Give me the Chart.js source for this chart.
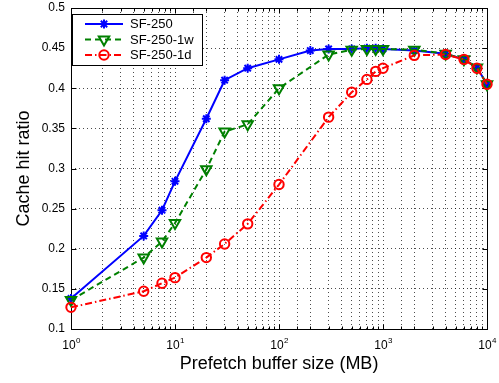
<!DOCTYPE html>
<html>
<head>
<meta charset="utf-8">
<script src="https://cdn.jsdelivr.net/npm/chart.js@4"></script>
<style>
html, body { margin: 0; padding: 0; background: #fff; }
</style>
</head>
<body>
<canvas id="myChart" width="499" height="383"></canvas>
<script>
// buffer sizes (MB) for each series
const sizes_sf250 = [1, 5, 7.5, 10, 20, 30, 50, 100, 200, 300, 500, 700, 850, 1000, 2000, 4000, 6000, 8000, 10000];
const sizes_sf250_1w = [1, 5, 7.5, 10, 20, 30, 50, 100, 300, 500, 700, 850, 1000, 2000, 4000, 6000, 8000, 10000];
const sizes_sf250_1d = [1, 5, 7.5, 10, 20, 30, 50, 100, 300, 500, 700, 850, 1000, 2000, 4000, 6000, 8000, 10000];

// cache hit ratio
const hit_sf250 = [0.138, 0.216, 0.248, 0.284, 0.362, 0.410, 0.425, 0.436, 0.447, 0.449, 0.449, 0.450, 0.450, 0.449, 0.447, 0.443, 0.436, 0.426, 0.405];
const hit_sf250_1w = [0.136, 0.189, 0.209, 0.232, 0.299, 0.346, 0.355, 0.400, 0.442, 0.448, 0.449, 0.449, 0.449, 0.448, 0.443, 0.436, 0.426, 0.405];
const hit_sf250_1d = [0.127, 0.147, 0.157, 0.164, 0.189, 0.206, 0.231, 0.280, 0.364, 0.395, 0.411, 0.421, 0.425, 0.441, 0.442, 0.436, 0.425, 0.405];

const series_names = ["SF-250", "SF-250-1w", "SF-250-1d"];
const x_tick_powers = [0, 1, 2, 3, 4];

Chart.defaults.font.family = "'Liberation Sans', Arial, sans-serif";
Chart.defaults.color = "#000";

function to_points(xs, ys) {
    return xs.map((x, i) => ({ x: x, y: ys[i] }));
}

// 枠線と内向きの目盛り
const frame_plugin = {
    id: "frame",
    beforeDatasetsDraw(chart) {
        const ctx = chart.ctx;
        const a = chart.chartArea;
        const xs = chart.scales.x;
        const ys = chart.scales.y;
        const l = Math.round(a.left) + 0.5, r = Math.round(a.right) + 0.5;
        const t = Math.round(a.top) + 0.5, b = Math.round(a.bottom) + 0.5;
        ctx.save();
        ctx.strokeStyle = "#000";
        ctx.lineWidth = 1;
        ctx.beginPath();
        xs.ticks.forEach(tk => {
            const lg = Math.log10(tk.value);
            const len = Math.abs(lg - Math.round(lg)) < 1e-9 ? 5 : 3;
            const px = Math.round(xs.getPixelForValue(tk.value)) + 0.5;
            ctx.moveTo(px, b); ctx.lineTo(px, b - len);
            ctx.moveTo(px, t); ctx.lineTo(px, t + len);
        });
        ys.ticks.forEach(tk => {
            const py = Math.round(ys.getPixelForValue(tk.value)) + 0.5;
            ctx.moveTo(l, py); ctx.lineTo(l + 5, py);
            ctx.moveTo(r, py); ctx.lineTo(r - 5, py);
        });
        ctx.stroke();
        ctx.strokeRect(l, t, r - l, b - t);

        // x軸ラベル 10^n
        ctx.fillStyle = "#000";
        x_tick_powers.forEach(p => {
            const px = xs.getPixelForValue(Math.pow(10, p));
            ctx.font = "12px 'Liberation Sans', Arial, sans-serif";
            ctx.textAlign = "center";
            ctx.textBaseline = "alphabetic";
            ctx.fillText("10", px - 2, b + 19);
            ctx.font = "8px 'Liberation Sans', Arial, sans-serif";
            ctx.textAlign = "left";
            ctx.fillText(String(p), px + 5, b + 13);
        });
        ctx.restore();
    }
};

// 凡例 (グラフ内左上)
const legend_plugin = {
    id: "boxLegend",
    afterDatasetsDraw(chart) {
        const ctx = chart.ctx;
        const a = chart.chartArea;
        const x0 = a.left + 1, y0 = a.top + 6;
        const w = 130, h = 51;
        ctx.save();
        ctx.fillStyle = "#fff";
        ctx.fillRect(x0, y0, w, h);
        ctx.strokeStyle = "#000";
        ctx.lineWidth = 1;
        ctx.strokeRect(Math.round(x0) + 0.5, Math.round(y0) + 0.5, w, h);
        chart.data.datasets.forEach((ds, i) => {
            const cy = y0 + 10 + i * 15.5;
            ctx.save();
            ctx.strokeStyle = ds.borderColor;
            ctx.fillStyle = "rgba(0,0,0,0)";
            ctx.lineWidth = 2;
            ctx.setLineDash(ds.borderDash || []);
            ctx.beginPath();
            ctx.moveTo(x0 + 13, cy);
            ctx.lineTo(x0 + 51, cy);
            ctx.stroke();
            ctx.setLineDash([]);
            Chart.helpers.drawPoint(ctx, {
                pointStyle: ds.pointStyle,
                rotation: ds.pointRotation || 0,
                radius: ds.pointRadius,
                borderWidth: 2
            }, x0 + 32, cy);
            ctx.restore();
            ctx.fillStyle = "#000";
            ctx.font = "13px 'Liberation Sans', Arial, sans-serif";
            ctx.textAlign = "left";
            ctx.textBaseline = "middle";
            ctx.fillText(ds.label, x0 + 58, cy + 0.5);
        });
        ctx.restore();
    }
};

const ctx = document.getElementById("myChart").getContext("2d");

const chart = new Chart(ctx, {
    type: "line",
    data: {
        datasets: [
            {
                label: series_names[0],
                data: to_points(sizes_sf250, hit_sf250),
                borderColor: "#0000ff",
                backgroundColor: "#0000ff",
                borderWidth: 2,
                pointStyle: "star",
                pointRadius: 4.5,
                pointBorderWidth: 2,
                pointBorderColor: "#0000ff",
                pointBackgroundColor: "rgba(0,0,0,0)",
                order: 2,
                clip: false
            },
            {
                label: series_names[1],
                data: to_points(sizes_sf250_1w, hit_sf250_1w),
                borderColor: "#008000",
                backgroundColor: "#008000",
                borderWidth: 2,
                borderDash: [6, 4],
                pointStyle: "triangle",
                pointRotation: 180,
                pointRadius: 6,
                pointBorderWidth: 2,
                pointBorderColor: "#008000",
                pointBackgroundColor: "rgba(0,0,0,0)",
                order: 1,
                clip: false
            },
            {
                label: series_names[2],
                data: to_points(sizes_sf250_1d, hit_sf250_1d),
                borderColor: "#ff0000",
                backgroundColor: "#ff0000",
                borderWidth: 2,
                borderDash: [7, 3, 1.5, 3],
                pointStyle: "circle",
                pointRadius: 4.7,
                pointBorderWidth: 2,
                pointBorderColor: "#ff0000",
                pointBackgroundColor: "rgba(0,0,0,0)",
                order: 0,
                clip: false
            }
        ]
    },
    options: {
        responsive: false,
        animation: false,
        layout: { padding: { top: 5, right: 12, left: 0, bottom: 0 } },
        plugins: {
            legend: { display: false },
            tooltip: { enabled: false }
        },
        scales: {
            x: {
                type: "logarithmic",
                min: 1,
                max: 10000,
                ticks: { display: false, autoSkip: false },
                grid: { color: "rgba(0,0,0,0.7)", lineWidth: 1, drawTicks: false },
                border: { display: false, dash: [1, 3] },
                title: {
                    display: true,
                    text: "Prefetch buffer size (MB)",
                    font: { size: 18 },
                    color: "#000",
                    padding: { top: 0, bottom: 8 }
                },
                afterFit: (scale) => {
                    scale.height = 54;
                    scale.paddingLeft = 0;
                    scale.paddingRight = 0;
                }
            },
            y: {
                min: 0.1,
                max: 0.5,
                ticks: {
                    stepSize: 0.05,
                    font: { size: 12 },
                    color: "#000",
                    padding: 6,
                    callback: (v) => String(parseFloat(Number(v).toFixed(2)))
                },
                grid: { color: "rgba(0,0,0,0.7)", lineWidth: 1, drawTicks: false },
                border: { display: false, dash: [1, 3] },
                title: {
                    display: true,
                    text: "Cache hit ratio",
                    font: { size: 18 },
                    color: "#000",
                    padding: { top: 13, bottom: 0 }
                },
                afterFit: (scale) => {
                    scale.width = 71;
                    scale.paddingTop = 0;
                    scale.paddingBottom = 0;
                }
            }
        }
    },
    plugins: [frame_plugin, legend_plugin]
});
</script>
</body>
</html>
